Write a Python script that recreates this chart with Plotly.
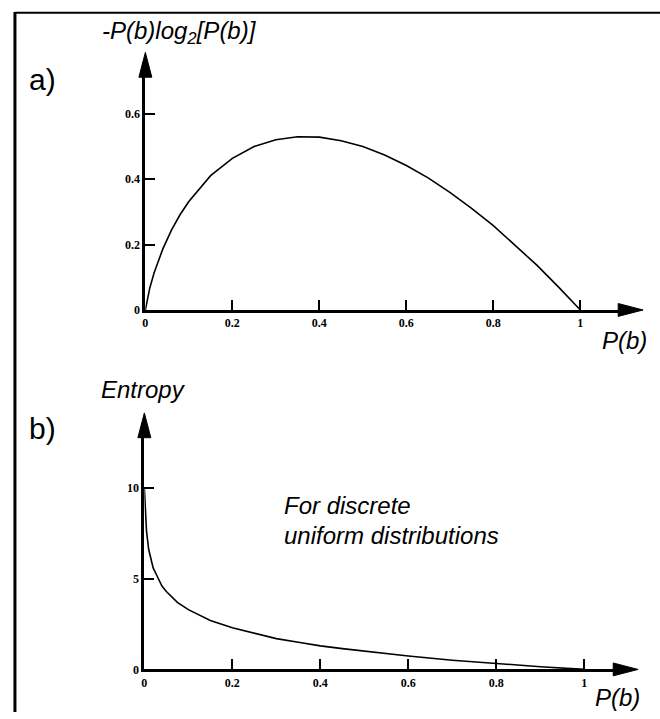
import plotly.graph_objects as go

# ---- data ----
p_a = [0.0, 0.005, 0.01, 0.02, 0.04, 0.06, 0.08, 0.1, 0.15, 0.2, 0.25, 0.3, 0.35,
       0.4, 0.45, 0.5, 0.55, 0.6, 0.65, 0.7, 0.75, 0.8, 0.85, 0.9, 0.95, 1.0]
h_a = [0.0, 0.038, 0.066, 0.113, 0.186, 0.244, 0.292, 0.332, 0.411, 0.464, 0.500,
       0.521, 0.530, 0.529, 0.518, 0.500, 0.474, 0.442, 0.404, 0.360, 0.311, 0.258,
       0.199, 0.137, 0.070, 0.0]

p_b = [0.0, 0.002, 0.005, 0.01, 0.02, 0.03, 0.04, 0.05, 0.075, 0.1, 0.15, 0.2, 0.25,
       0.3, 0.35, 0.4, 0.45, 0.5, 0.6, 0.7, 0.8, 0.9, 1.0]
h_b = [10.0, 9.0, 7.6, 6.6, 5.6, 5.1, 4.6, 4.3, 3.7, 3.3, 2.7, 2.3, 2.0,
       1.7, 1.5, 1.3, 1.15, 1.0, 0.74, 0.51, 0.32, 0.15, 0.0]

x_ticks = [0, 0.2, 0.4, 0.6, 0.8, 1]
x_ticklabels = ["0", "0.2", "0.4", "0.6", "0.8", "1"]
ya_ticks = [0, 0.2, 0.4, 0.6]
ya_ticklabels = ["0", "0.2", "0.4", "0.6"]
yb_ticks = [0, 5, 10]
yb_ticklabels = ["0", "5", "10"]

# ---- geometry (pixels) ----
W, H = 660, 719


def px(x):
    return x / W


def py(y):
    return 1 - y / H


# panel a
A = dict(x0=143, x1=580, xtip=643, y0=313, yunit=330, ytip=53)
# panel b
B = dict(x0=142, x1=584, xtip=638, y0=676, yunit=18.3, ytip=417)
GAP = 10  # domain ends this many px before arrow tip

fig = go.Figure()
fig.add_trace(go.Scatter(x=p_a, y=h_a, mode="lines", xaxis="x", yaxis="y",
                         line=dict(color="black", width=1.6), cliponaxis=False,
                         hoverinfo="skip", showlegend=False))
fig.add_trace(go.Scatter(x=p_b, y=h_b, mode="lines", xaxis="x2", yaxis="y2",
                         line=dict(color="black", width=1.6), cliponaxis=False,
                         hoverinfo="skip", showlegend=False))

tickfont = dict(family="Liberation Serif", size=12, color="black", weight="bold")
common = dict(showgrid=False, zeroline=False, showline=True, linecolor="black",
              linewidth=3, ticks="inside", ticklen=10, tickwidth=2,
              tickcolor="black", tickfont=tickfont, fixedrange=True)


def axes(P, yticks, ylabels, xname, yname):
    xux = P["x1"] - P["x0"]
    xend = P["xtip"] - GAP
    yend = P["ytip"] + GAP
    xa = dict(domain=[px(P["x0"]), px(xend)],
              range=[0, (xend - P["x0"]) / xux],
              tickvals=x_ticks, ticktext=x_ticklabels, anchor=yname, **common)
    ya = dict(domain=[py(P["y0"]), py(yend)],
              range=[0, (P["y0"] - yend) / P["yunit"]],
              tickvals=yticks, ticktext=ylabels, anchor=xname, **common)
    return xa, ya


xa, ya = axes(A, ya_ticks, ya_ticklabels, "x", "y")
xb, yb = axes(B, yb_ticks, yb_ticklabels, "x2", "y2")

shapes = []


def arrowheads(P):
    L, hw = 25, 6.5
    # x-axis arrow
    t, y = P["xtip"], P["y0"]
    shapes.append(dict(type="path", xref="paper", yref="paper",
                       path=f"M{px(t)},{py(y)} L{px(t-L)},{py(y-hw)} L{px(t-L)},{py(y+hw)} Z",
                       fillcolor="black", line=dict(color="black", width=1)))
    # y-axis arrow
    x, t = P["x0"], P["ytip"]
    shapes.append(dict(type="path", xref="paper", yref="paper",
                       path=f"M{px(x)},{py(t)} L{px(x-hw)},{py(t+L)} L{px(x+hw)},{py(t+L)} Z",
                       fillcolor="black", line=dict(color="black", width=1)))
    # line segments joining axis end to the arrow base
    shapes.append(dict(type="line", xref="paper", yref="paper",
                       x0=px(P["xtip"] - GAP - 2), x1=px(P["xtip"] - 20),
                       y0=py(P["y0"]), y1=py(P["y0"]), line=dict(color="black", width=3)))
    shapes.append(dict(type="line", xref="paper", yref="paper",
                       x0=px(P["x0"]), x1=px(P["x0"]),
                       y0=py(P["ytip"] + GAP + 2), y1=py(P["ytip"] + 20),
                       line=dict(color="black", width=3)))


arrowheads(A)
arrowheads(B)

# frame lines (top and left visible)
shapes.append(dict(type="line", xref="paper", yref="paper", x0=px(12), x1=1,
                   y0=py(13), y1=py(13), line=dict(color="black", width=2)))
shapes.append(dict(type="line", xref="paper", yref="paper", x0=px(12), x1=px(12),
                   y0=py(12), y1=0, line=dict(color="black", width=3)))

lab = dict(family="Liberation Sans", size=24, color="black", style="italic")
big = dict(family="Liberation Sans", size=30, color="black")


def ann(text, x, y, font, xanchor="center"):
    return dict(text=text, x=px(x), y=py(y), xref="paper", yref="paper",
                showarrow=False, font=font, xanchor=xanchor, yanchor="middle")


annotations = [
    ann("-P(b)log<sub>2</sub>[P(b)]", 177, 33, lab),
    ann("a)", 40, 80, big),
    ann("P(b)", 624, 344, lab),
    ann("Entropy", 141, 393, lab),
    ann("b)", 40, 433, big),
    ann("P(b)", 617, 704, lab),
    ann("For discrete", 280, 510, lab, "left"),
    ann("uniform distributions", 280, 541, lab, "left"),
]

fig.update_layout(
    width=W, height=H,
    margin=dict(l=0, r=0, t=0, b=0),
    paper_bgcolor="white", plot_bgcolor="white",
    xaxis=xa, yaxis=ya, xaxis2=xb, yaxis2=yb,
    shapes=shapes, annotations=annotations,
    showlegend=False,
)

fig.write_html(
    "out.html",
    config={"displayModeBar": False},
    post_script="document.body.style.margin='0px';document.body.style.overflow='hidden';",
)
